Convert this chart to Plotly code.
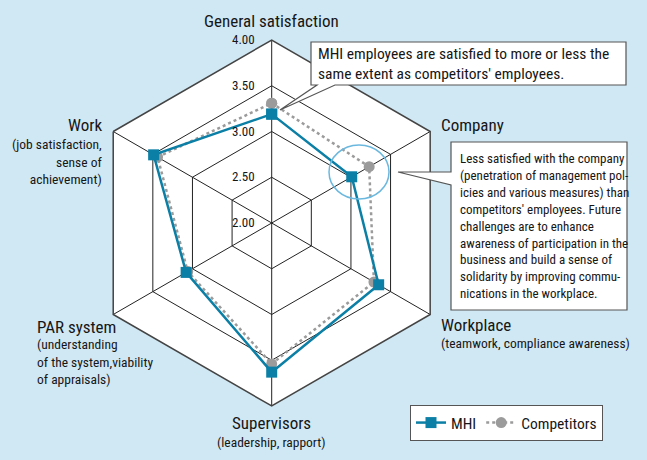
import plotly.graph_objects as go

# ---- datos ----
categorias = ["General satisfaction", "Company", "Workplace", "Supervisors", "PAR system", "Work"]
mhi = [3.19, 3.01, 3.35, 3.63, 3.08, 3.49]
competidores = [3.31, 3.23, 3.29, 3.54, 3.06, 3.44]
ticks_val = [2.0, 2.5, 3.0, 3.5, 4.0]
ticks_txt = ["2.00", "2.50", "3.00", "3.50", "4.00"]

W, H = 647, 460
FONT = "Roboto Condensed, Liberation Sans Narrow, Arial Narrow, sans-serif"
AZUL = "#0b7fa5"
GRIS = "#9b9b9b"
FONDO = "#d0e8f4"
TXT = "#161616"


def px(x, y):
    # pixel -> coordenadas paper
    return x / W, 1 - y / H


def ruta(puntos):
    partes = []
    for i, (x, y) in enumerate(puntos):
        xp, yp = px(x, y)
        partes.append(("M" if i == 0 else "L") + f"{xp:.5f},{yp:.5f}")
    return " ".join(partes) + " Z"


fig = go.Figure()

fig.add_trace(go.Scatterpolar(
    r=competidores + competidores[:1],
    theta=categorias + categorias[:1],
    mode="lines+markers",
    name="Competitors",
    line=dict(color=GRIS, width=2.5, dash="dot"),
    marker=dict(symbol="circle", size=11, color=GRIS),
))
fig.add_trace(go.Scatterpolar(
    r=mhi + mhi[:1],
    theta=categorias + categorias[:1],
    mode="lines+markers",
    name="MHI",
    line=dict(color=AZUL, width=2.5),
    marker=dict(symbol="square", size=11, color=AZUL),
))

# ---- cuadros de texto con flecha ----
caja1 = [(311, 42), (626, 42), (626, 85), (335, 85), (280, 110), (317, 85), (311, 85)]
caja2 = [(451, 142), (627, 142), (627, 310), (451, 310), (451, 185), (398, 172), (451, 172)]
shapes = []
for c in (caja1, caja2):
    shapes.append(dict(type="path", xref="paper", yref="paper", path=ruta(c),
                       fillcolor="white", line=dict(color="#555555", width=1.2), layer="above"))

# elipse alrededor de Company
x0, y0 = px(329, 145)
x1, y1 = px(389, 199)
shapes.append(dict(type="circle", xref="paper", yref="paper", x0=x0, y0=y0, x1=x1, y1=y1,
                   line=dict(color="#6bb8df", width=1.5), layer="above"))

anotaciones = []


def etiqueta(texto, x, y, xanchor, yanchor, size, align="left"):
    xp, yp = px(x, y)
    anotaciones.append(dict(text=texto, x=xp, y=yp, xref="paper", yref="paper",
                            xanchor=xanchor, yanchor=yanchor, align=align, showarrow=False,
                            font=dict(family=FONT, size=size, color=TXT)))


S = 13.5
etiqueta("General satisfaction", 271, 21, "center", "middle", 17, "center")
etiqueta("Company", 439, 125, "left", "middle", 17)
etiqueta("Workplace", 439, 325, "left", "middle", 17)
etiqueta("(teamwork, compliance awareness)", 439, 333, "left", "top", S)
etiqueta("Supervisors", 271, 423, "center", "middle", 17, "center")
etiqueta("(leadership, rapport)", 271, 432, "center", "top", S, "center")
etiqueta("PAR system", 35, 327, "left", "middle", 17)
etiqueta("(understanding<br>of the system,viability<br>of appraisals)", 35, 334, "left", "top", S)
etiqueta("Work", 104, 125, "right", "middle", 17, "right")
etiqueta("(job satisfaction,<br>sense of<br>achievement)", 104, 134, "right", "top", S, "right")

etiqueta("MHI employees are satisfied to more or less the<br>same extent as competitors' employees.",
         316, 64, "left", "middle", 15.5)
etiqueta("Less satisfied with the company<br>(penetration of management pol-<br>icies and various measures) than<br>"
         "competitors' employees. Future<br>challenges are to enhance<br>awareness of participation in the<br>"
         "business and build a sense of<br>solidarity by improving commu-<br>nications in the workplace.",
         458, 226, "left", "middle", 13)

cx, cy, rad = 271.7, 223, 183
fig.update_layout(
    width=W, height=H,
    margin=dict(l=0, r=0, t=0, b=0),
    paper_bgcolor=FONDO,
    font=dict(family=FONT, color=TXT),
    polar=dict(
        domain=dict(x=[(cx - rad) / W, (cx + rad) / W], y=[1 - (cy + rad) / H, 1 - (cy - rad) / H]),
        bgcolor="white",
        gridshape="linear",
        radialaxis=dict(range=[2, 4], tickvals=ticks_val, ticktext=ticks_txt, angle=90,
                        tickangle=90, side="counterclockwise", showline=False,
                        ticks="outside", ticklen=12, tickcolor="rgba(0,0,0,0)",
                        gridcolor="#222222", gridwidth=1,
                        tickfont=dict(family=FONT, size=13, color=TXT)),
        angularaxis=dict(type="category", categoryarray=categorias, direction="clockwise",
                         rotation=90, showticklabels=False, ticks="",
                         gridcolor="#222222", gridwidth=1,
                         showline=True, linecolor="#444444", linewidth=1.5),
    ),
    legend=dict(orientation="h", x=410 / W, y=1 - 405 / H, xanchor="left", yanchor="top",
                bgcolor="white", bordercolor="#555555", borderwidth=1,
                font=dict(family=FONT, size=15.5, color=TXT),
                traceorder="reversed"),
    shapes=shapes,
    annotations=anotaciones,
)

fig.write_html("out.html", config={"displayModeBar": False},
               post_script="document.body.style.margin='0';")
